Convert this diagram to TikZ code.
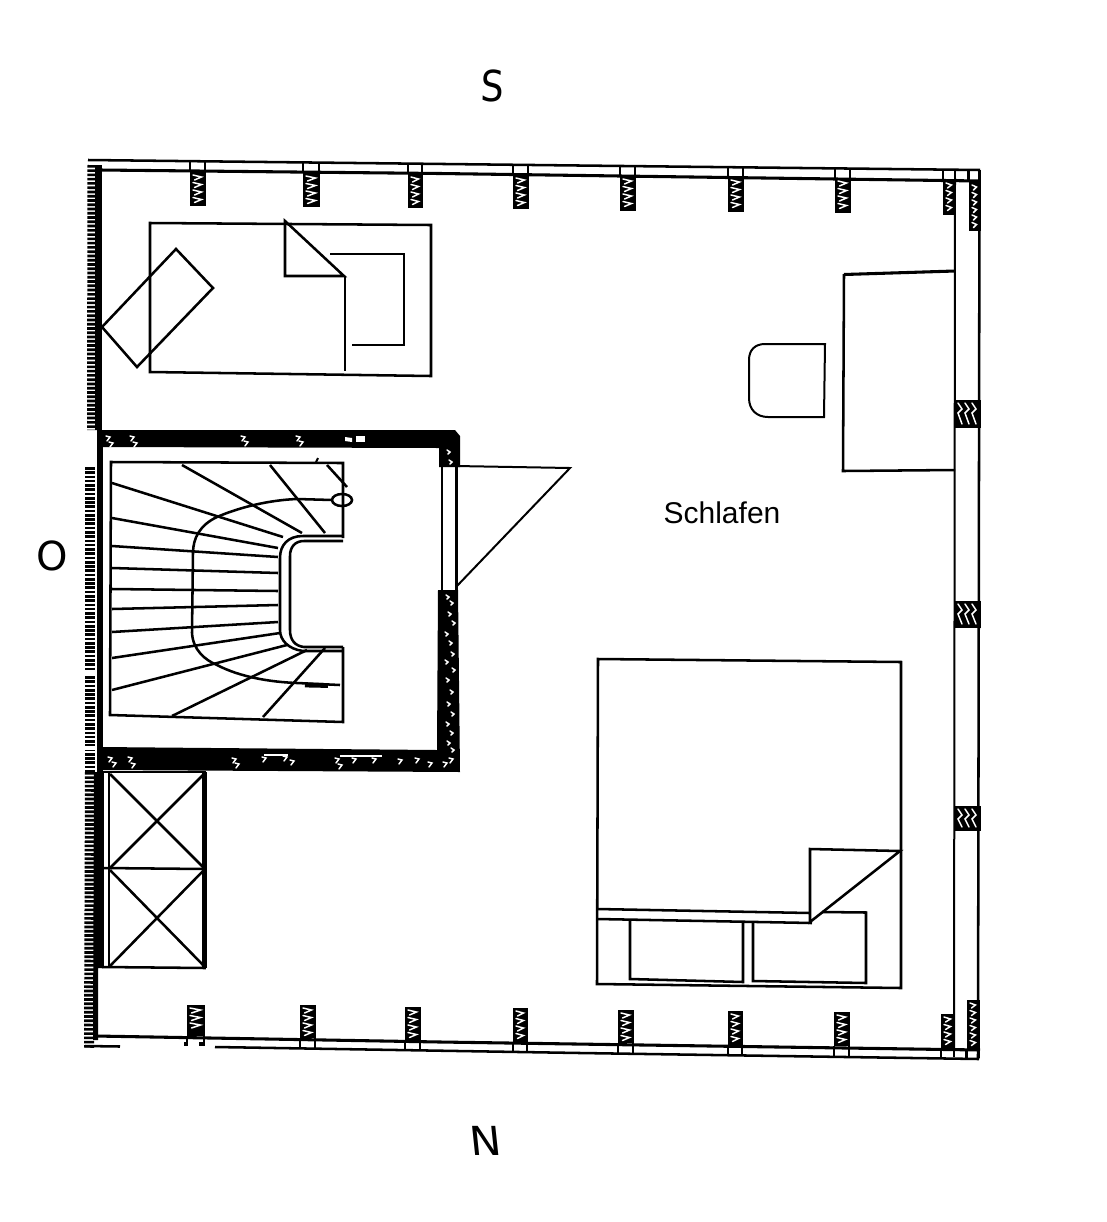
\documentclass[tikz,border=0pt]{standalone}
\usepackage{fontspec}
\setmainfont{Liberation Sans}
\newfontfamily\handfont{DejaVu Sans}
\tikzset{
  thinl/.style={line width=1.5pt,black,line join=miter},
  medl/.style={line width=1.9pt,black,line join=miter},
  wallband/.style={fill=black,draw=none},
  fleck/.style={white,line width=1.1pt,line cap=round},
  hatchl/.style={black,line width=7.5pt,dash pattern=on 2pt off 1.2pt},
}
% pillar standing on a horizontal wall: x1 x2, crossing from ya to yb, black from yb to yc
\newcommand{\vpillar}[5]{%
  \draw[thinl] (#1,#3)--(#1,#4) (#2,#3)--(#2,#4);
  \fill[black] (#1-0.5,#4) rectangle (#2+0.5,#5);
  \pgfmathsetmacro{\ylo}{min(#4,#5)+3}
  \pgfmathsetmacro{\yhi}{max(#4,#5)-7}
  \pgfmathsetmacro{\ynx}{\ylo+7.5}
  \foreach \yy in {\ylo,\ynx,...,\yhi}{%
    \draw[fleck] (#1+3,\yy)--(#2-3.5,\yy+2)--(#1+4.5,\yy+5);
  }%
}
% pillar in the east wall
\newcommand{\hpillar}[4]{%
  \fill[black] (#1,#3) rectangle (#2,#4);
  \foreach \xx in {3,10,17}{%
    \draw[fleck] (#1+\xx,#3+3)--(#1+\xx+4,#3+9)--(#1+\xx,#3+13)--(#1+\xx+4,#4-4);
  }%
}
\begin{document}
\begin{tikzpicture}[x=0.75pt,y=-0.75pt]
\useasboundingbox (0,0) rectangle (1107,1222);
\fill[white] (0,0) rectangle (1107,1222);

% ---- outer walls
\draw[medl] (88,160)--(980,170);
\draw[line width=2.3pt] (100,170)--(440,173.5)--(980,181);
\draw[line width=2.3pt] (95,1036)--(440,1042)--(980,1050);
\draw[medl] (215,1047)--(580,1053)--(979,1059);
\draw[medl] (85,1046)--(120,1046.5);
\fill[black] (184,1042) rectangle (188,1046);
\fill[black] (199,1042) rectangle (204,1046);
\draw[thinl] (955,178)--(954,1050);
\draw[medl] (979.5,170)--(978,1059);
\draw[thinl] (968,171)--(968,182);
\draw[thinl] (966,1050)--(966,1058);

% west wall: scan-hatched band and solid core
\draw[hatchl] (92.5,165)--(92,430);
\draw[hatchl] (90,467)--(90,772);
\draw[hatchl] (90,772)--(89,1048);
\fill[black] (95,165)--(102,165)--(102,430)--(95,430)--cycle;
\fill[black] (97,430) rectangle (103,772);
\fill[black] (94,772)--(103,772)--(103,968)--(98,968)--(98,1040)--(93,1040)--cycle;
\fill[white] (85,462) rectangle (95,466);
\fill[white] (85,672) rectangle (95,674);
\fill[white] (85,746) rectangle (95,750);

% ---- pillars, south side (top)
\vpillar{190}{205}{161}{172}{206}
\vpillar{303}{319}{162}{173}{207}
\vpillar{408}{422}{163}{174}{208}
\vpillar{513}{528}{165}{175}{209}
\vpillar{620}{635}{166}{176}{211}
\vpillar{728}{743}{167}{177}{212}
\vpillar{835}{850}{168}{178}{213}
\vpillar{943}{955}{169}{180}{215}
\vpillar{969}{980}{170}{182}{231}
% ---- pillars, north side (bottom)
\vpillar{187}{204}{1046}{1036}{1005}
\vpillar{300}{315}{1048}{1038}{1005}
\vpillar{405}{420}{1049}{1040}{1007}
\vpillar{513}{527}{1051}{1042}{1008}
\vpillar{618}{633}{1053}{1043}{1010}
\vpillar{728}{742}{1054}{1045}{1011}
\vpillar{834}{849}{1056}{1046}{1012}
\vpillar{941}{954}{1057}{1048}{1014}
\vpillar{967}{979}{1058}{1049}{1000}
% ---- pillars in the east wall
\hpillar{955}{981}{400}{428}
\hpillar{955}{981}{601}{628}
\hpillar{955}{981}{806}{831}

% ---- stairwell walls
\fill[black] (103,430) -- (455,430) -- (460,436) -- (460,467) -- (439,467) -- (439,448) -- (103,447) -- cycle;
\fill[black] (438,590) -- (458,590) -- (460,772) -- (100,770) -- (100,747) -- (437,750) -- cycle;
\draw[medl] (442,467)--(442,590);
\draw[medl] (456.5,467)--(456.5,590);
% flecks in the wall bands
\foreach \xa/\ya in {106/436,109/442,130/436,133/442,241/436,244/441,296/436,299/441,
    108/757,112/762,128/757,131/763,232/758,235/763,262/757,283/756,290/760,335/758,
    338/764,352/758,372/758,398/759,415/758,428/762,443/762,449/758}{%
  \draw[fleck] (\xa,\ya)--(\xa+4,\ya+1)--(\xa+1,\ya+5);
}
\fill[white] (345,437) -- (352,438) -- (352,442) -- (345,441) -- cycle;
\fill[white] (356,436) rectangle (365,442);
\fill[white] (264,754) rectangle (288,755.5);
\fill[white] (340,755) rectangle (382,756.5);
\foreach \xa/\ya in {447/450,449/460,446/595,450/601,448/612,452/621,445/632,449/641,
    451/652,445/660,452/668,446/678,450/690,447/702,451/712,446/722,450/731,447/741,451/748}{%
  \draw[fleck] (\xa,\ya)--(\xa+3,\ya+2)--(\xa+1,\ya+4);
}

% door leaf
\draw[thinl] (456,466)--(570,468)--(456,587);

% ---- stairs
\draw[medl] (343,538)--(343,463)--(111,462)--(110,715)--(343,722)--(343,647);
\draw[medl] (343,536)--(303,536) .. controls (288,536) and (280,545) .. (280,558)
   -- (280,630) .. controls (280,640) and (288,649) .. (303,651) -- (343,651);
\draw[medl] (343,541)--(304,541) .. controls (295,541) and (290,547) .. (290,556)
   -- (290,630) .. controls (290,640) and (295,646) .. (304,647) -- (343,647);
\foreach \xa/\ya/\xb/\yb in {
  182/465/302/533, 270/465/325/533, 112/483/283/537, 112/518/278/548,
  112/546/278/557, 112/568/278/573, 112/589/278/591, 112/609/278/605,
  112/632/278/622, 112/658/280/633, 112/690/287/645, 172/716/307/650,
  263/717/325/648}{%
  \draw[medl] (\xa,\ya)--(\xb,\yb);
}
% walking line
\draw[medl] (332,500)--(297,499) .. controls (270,500) and (240,507) .. (217,517)
   .. controls (200,525) and (193,538) .. (193,553) -- (192,633)
   .. controls (193,650) and (205,660) .. (217,665)
   .. controls (240,677) and (270,682) .. (297,683) -- (340,685);
\draw[line width=3.6pt,black] (305,685)--(328,685.5);
\draw[medl] (342,500) ellipse [x radius=10,y radius=6];
\draw[medl] (327,465)--(347,487);
\draw[thinl] (316,462)--(318,458);

% ---- bed NW corner
\draw[medl] (150,223)--(431,225)--(431,376)--(150,372)--cycle;
\draw[medl] (285,221)--(285,276)--(344,276)--cycle;
\draw[medl] (345,276)--(345,371);
\draw[medl] (330,254)--(404,254)--(404,345)--(352,345);
\draw[medl] (102,327)--(176,249)--(213,288)--(137,367)--cycle;

% ---- desk and chair
\draw[line width=2.3pt] (955,271)--(844,274.5);
\draw[medl] (844,274)--(843,471)--(955,470);
\draw[thinl] (825,344)--(765,344) .. controls (755,344) and (749,350) .. (749,360)
   -- (749,398) .. controls (749,410) and (757,417) .. (768,417) -- (824,417)--cycle;

% ---- double bed
\draw[medl] (598,659)--(901,662)--(901,988)--(597,984)--cycle;
\draw[medl] (597,909)--(810,913);
\draw[medl] (597,919)--(812,923);
\draw[medl] (810,922)--(810,849)--(900,851)--cycle;
\draw[medl] (630,921)--(630,979)--(743,982)--(743,922);
\draw[medl] (822,912)--(866,912.5)--(866,983)--(753,981)--(753,923);

% ---- wardrobes
\draw[medl] (102,772)--(206,772);
\draw[medl] (102,967)--(206,968);
\draw[line width=3.6pt] (204.5,772)--(204.5,968);
\draw[thinl] (103,772)--(103,967);
\draw[medl] (109,772)--(109,967);
\draw[medl] (103,868)--(205,869);
\draw[medl] (110,774)--(204,868) (204,774)--(110,868);
\draw[medl] (110,870)--(204,966) (204,870)--(110,966);

% ---- texts
\node[font=\fontsize{22.5pt}{26pt}\selectfont,text=black,draw=none] (room) at (722,513) {Schlafen};
\node[font=\handfont\fontsize{32pt}{36pt}\selectfont,xscale=0.85,xslant=0.05] (south) at (493,86) {S};
\node[font=\handfont\fontsize{30pt}{34pt}\selectfont] (east) at (52,556) {O};
\node[font=\handfont\fontsize{30pt}{34pt}\selectfont,xscale=1.05,xslant=-0.1] (north) at (486,1141) {N};
\end{tikzpicture}
\end{document}
